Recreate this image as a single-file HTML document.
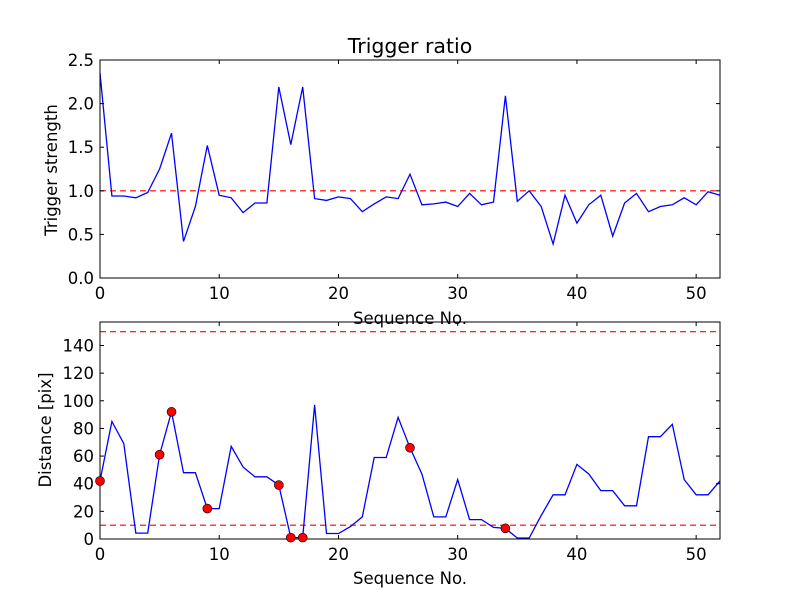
<!DOCTYPE html>
<html><head><meta charset="utf-8"><style>
body{margin:0;background:#fff;}
svg text{font-family:"DejaVu Sans","Liberation Sans",sans-serif;fill:#000;}
</style></head><body>
<svg id="chart" width="800" height="600" viewBox="0 0 800 600" xmlns="http://www.w3.org/2000/svg">
<rect width="800" height="600" fill="#fff"/>
<g id="g"></g>
</svg>
<script>
const ratioValues=[2.35,0.94,0.94,0.92,0.98,1.25,1.66,0.42,0.82,1.52,0.95,0.92,0.75,0.86,0.86,2.19,1.53,2.19,0.91,0.89,0.93,0.91,0.76,0.85,0.93,0.91,1.19,0.84,0.85,0.87,0.82,0.97,0.84,0.87,2.09,0.88,1.0,0.82,0.39,0.95,0.63,0.84,0.95,0.48,0.86,0.97,0.76,0.82,0.84,0.92,0.84,0.99,0.95];
const distValues=[42,85,69,4.3,4.3,61,92,48,48,22,22,67,52,45,45,39,1,1,97,4,4,9,16,59,59,88,66,47,16,16,43,14,14,8.4,7.7,0.7,0.7,17,32,32,54,47,35,35,24,24,74,74,83,43,32,32,42];
const markerIdx=[0,5,6,9,15,16,17,26,34];
const ratioThreshold=[1.0];
const distThresholds=[10,150];
const xTicks=[0,10,20,30,40,50];
const topYTicks=["0.0","0.5","1.0","1.5","2.0","2.5"];
const botYTicks=[0,20,40,60,80,100,120,140];

const NS="http://www.w3.org/2000/svg";
const g=document.getElementById('g');
function el(t,a,p){const e=document.createElementNS(NS,t);for(const k in a)e.setAttribute(k,a[k]);(p||g).appendChild(e);return e;}
const L=100,R=720,XMAX=52,FS=16.5;
const xs=v=>L+v*(R-L)/XMAX;
function panel(top,bot,ymax,vals,yTickVals,yTickLabels,thr,name){
  const ys=v=>bot-v*(bot-top)/ymax;
  const grp=el('g',{});
  
  
  thr.forEach(t=>{const l=el('line',{x1:L,x2:R,y1:ys(t),y2:ys(t),stroke:'#f00','stroke-width':1.2,'stroke-dasharray':'6,4'},grp);
    
    });
  const pts=vals.map((v,i)=>xs(i).toFixed(1)+','+ys(v).toFixed(1)).join(' ');
  const pl=el('polyline',{points:pts,fill:'none',stroke:'#00f','stroke-width':1.3},grp);
  
  
  el('rect',{x:L,y:top,width:R-L,height:bot-top,fill:'none',stroke:'#000','stroke-width':1},grp);
  xTicks.forEach(t=>{const x=xs(t);
    el('line',{x1:x,x2:x,y1:bot,y2:bot-4,stroke:'#000'},grp);
    el('line',{x1:x,x2:x,y1:top,y2:top+4,stroke:'#000'},grp);
    const tx=el('text',{x:x,y:bot+21,'text-anchor':'middle','font-size':FS},grp);tx.textContent=t;
    
    });
  yTickVals.forEach((t,i)=>{const y=ys(t);
    el('line',{x1:L,x2:L+4,y1:y,y2:y,stroke:'#000'},grp);
    el('line',{x1:R,x2:R-4,y1:y,y2:y,stroke:'#000'},grp);
    const tx=el('text',{x:L-6,y:y+6,'text-anchor':'end','font-size':FS},grp);tx.textContent=yTickLabels[i];
    
    });
  return ys;
}
panel(60,278,2.5,ratioValues,topYTicks.map(Number),topYTicks,ratioThreshold,'ratio');
const ys2=panel(322,539,157,distValues,botYTicks,botYTicks.map(String),distThresholds,'distance');
markerIdx.forEach(i=>{const c=el('circle',{cx:xs(i),cy:ys2(distValues[i]),r:4.5,fill:'#f00',stroke:'#000','stroke-width':0.6});
  
  });
function txt(s,a,name){const t=el('text',a);t.textContent=s;}
txt('Trigger ratio',{x:410,y:53,'text-anchor':'middle','font-size':20.5},'chart-title');
txt('Sequence No.',{x:410,y:324,'text-anchor':'middle','font-size':FS},'top-x-axis-title');
txt('Sequence No.',{x:410,y:584,'text-anchor':'middle','font-size':FS},'bottom-x-axis-title');
txt('Trigger strength',{x:0,y:0,'text-anchor':'middle','font-size':FS,transform:'translate(57,170) rotate(-90)'},'top-y-axis-title');
txt('Distance [pix]',{x:0,y:0,'text-anchor':'middle','font-size':FS,transform:'translate(51,430) rotate(-90)'},'bottom-y-axis-title');
</script>
</body></html>
